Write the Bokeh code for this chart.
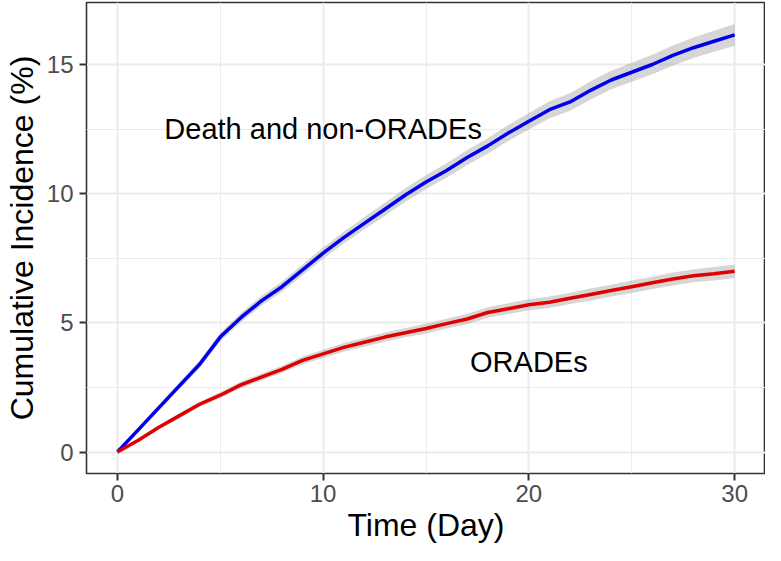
from bokeh.plotting import figure
from bokeh.models import Range1d, FixedTicker, Label
from bokeh.embed import file_html
from bokeh.resources import INLINE

# ---- data ----
days = list(range(0, 31))
death_non_orades = [0.0, 0.85, 1.7, 2.55, 3.4, 4.45, 5.2, 5.85, 6.4, 7.05, 7.7,
                    8.3, 8.85, 9.4, 9.95, 10.45, 10.9, 11.4, 11.85, 12.35, 12.8,
                    13.25, 13.55, 14.0, 14.4, 14.7, 15.0, 15.35, 15.65, 15.9, 16.15]
death_ci_half = [0.0, 0.08, 0.11, 0.13, 0.15, 0.17, 0.18, 0.19, 0.2, 0.21, 0.22,
                 0.23, 0.24, 0.25, 0.26, 0.27, 0.28, 0.29, 0.3, 0.31, 0.32,
                 0.33, 0.34, 0.35, 0.36, 0.37, 0.38, 0.39, 0.4, 0.41, 0.42]
orades = [0.0, 0.45, 0.95, 1.4, 1.85, 2.2, 2.6, 2.9, 3.2, 3.55, 3.8,
          4.05, 4.25, 4.45, 4.62, 4.78, 4.97, 5.15, 5.4, 5.55, 5.7,
          5.8, 5.95, 6.1, 6.25, 6.4, 6.55, 6.7, 6.82, 6.9, 7.0]
orades_ci_half = [0.0, 0.05, 0.07, 0.09, 0.1, 0.11, 0.12, 0.13, 0.14, 0.15, 0.16,
                  0.17, 0.17, 0.18, 0.18, 0.19, 0.19, 0.2, 0.2, 0.21, 0.21,
                  0.22, 0.22, 0.23, 0.23, 0.24, 0.24, 0.25, 0.25, 0.26, 0.26]
x_ticks = [0, 10, 20, 30]
x_minor = [5, 15, 25]
y_ticks = [0, 5, 10, 15]
y_minor = [2.5, 7.5, 12.5]
label_death = "Death and non-ORADEs"
label_orades = "ORADEs"
x_title = "Time (Day)"
y_title = "Cumulative Incidence (%)"

FONT = "Liberation Sans"

p = figure(width=765, height=545, output_backend="svg", toolbar_location=None,
           x_range=Range1d(-1.5, 31.5), y_range=Range1d(-0.83, 17.4))
p.min_border_left = 77
p.min_border_right = 0
p.min_border_top = 2
p.min_border_bottom = 0

p.background_fill_color = "white"
p.border_fill_color = "white"
p.outline_line_color = "#333333"
p.outline_line_width = 1.6

# grids
for g, maj, mnr in ((p.xgrid, x_ticks, x_minor), (p.ygrid, y_ticks, y_minor)):
    g.ticker = FixedTicker(ticks=maj, minor_ticks=mnr)
    g.grid_line_color = "#EBEBEB"
    g.grid_line_width = 2
    g.minor_grid_line_color = "#EBEBEB"
    g.minor_grid_line_width = 1

p.xaxis.ticker = FixedTicker(ticks=x_ticks, minor_ticks=x_minor)
p.yaxis.ticker = FixedTicker(ticks=y_ticks, minor_ticks=y_minor)
for ax in (p.xaxis, p.yaxis):
    ax.axis_line_color = None
    ax.major_tick_line_color = "#333333"
    ax.major_tick_line_width = 2
    ax.major_tick_out = 7
    ax.major_tick_in = 0
    ax.minor_tick_line_color = None
    ax.major_label_text_font = FONT
    ax.major_label_text_font_size = "24px"
    ax.major_label_text_color = "#4D4D4D"
    ax.axis_label_text_font = FONT
    ax.axis_label_text_font_size = "32px"
    ax.axis_label_text_font_style = "normal"
    ax.axis_label_text_color = "black"
p.xaxis.major_label_standoff = 4
p.yaxis.major_label_standoff = 6
p.xaxis.axis_label = x_title
p.yaxis.axis_label = y_title
p.xaxis.axis_label_standoff = 2
p.yaxis.axis_label_standoff = 4

# confidence bands
d_lo = [v - h for v, h in zip(death_non_orades, death_ci_half)]
d_hi = [v + h for v, h in zip(death_non_orades, death_ci_half)]
o_lo = [v - h for v, h in zip(orades, orades_ci_half)]
o_hi = [v + h for v, h in zip(orades, orades_ci_half)]
p.varea(x=days, y1=d_lo, y2=d_hi, fill_color="#999999", fill_alpha=0.4)
p.varea(x=days, y1=o_lo, y2=o_hi, fill_color="#999999", fill_alpha=0.4)

p.line(days, death_non_orades, line_color="#0000EE", line_width=3.5)
p.line(days, orades, line_color="#E00000", line_width=3.5)

p.add_layout(Label(x=10, y=12.5, text=label_death, text_align="center",
                   text_baseline="middle", text_font=FONT,
                   text_font_size="29px", text_color="black"))
p.add_layout(Label(x=20, y=3.5, text=label_orades, text_align="center",
                   text_baseline="middle", text_font=FONT,
                   text_font_size="29px", text_color="black"))

open("out.html", "w").write(file_html(p, INLINE))
